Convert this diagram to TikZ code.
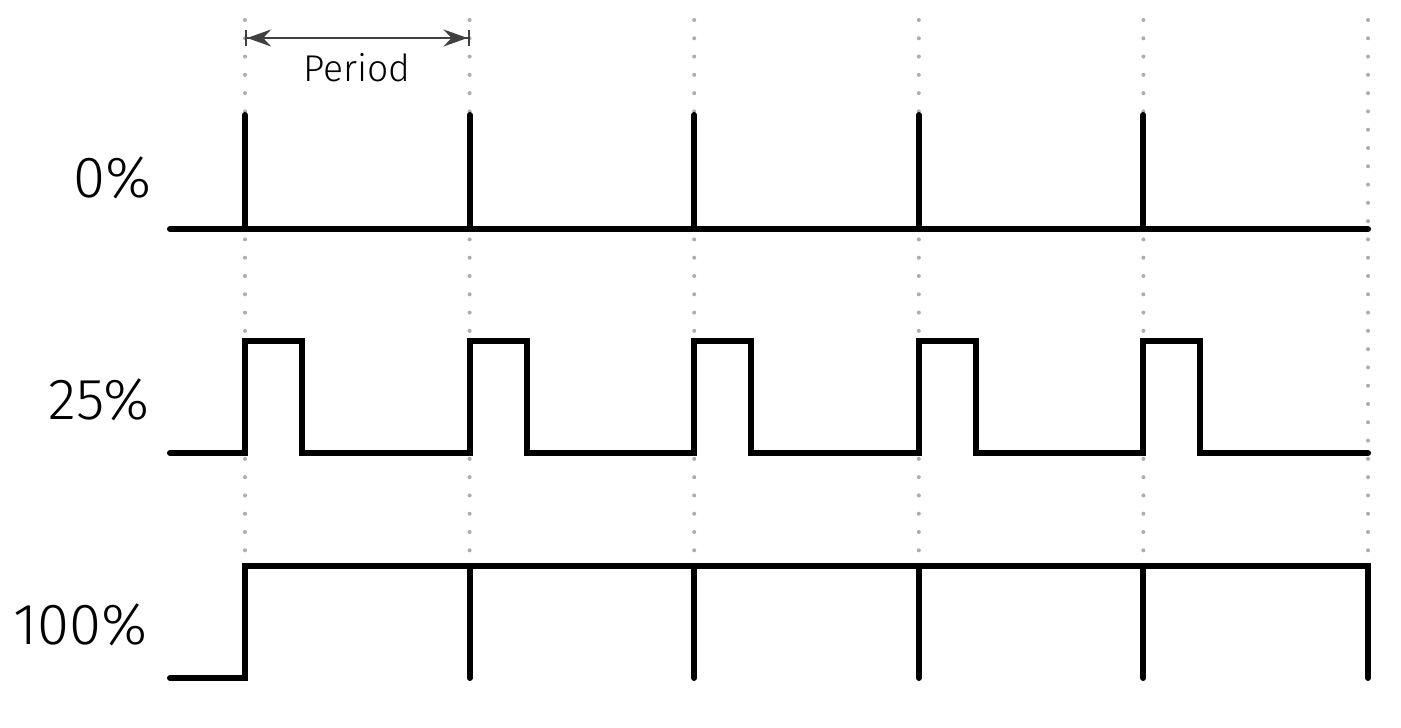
\documentclass[tikz,border=0pt]{standalone}
\usepackage{fontspec}
\setmainfont{Fira Sans}[UprightFont={* Light}]
\usetikzlibrary{arrows.meta}

\tikzset{
  signal/.style={line width=1.7pt, line cap=round, line join=miter},
  guide/.style={black!32, line width=1.15pt, line cap=round, dash pattern=on 0pt off 5.2pt},
  duty/.style={anchor=east, inner sep=0pt, font=\fontsize{16.5}{18}\selectfont},
  span/.style={black!75, line width=0.6pt,
    {Bar[width=4.4pt]Stealth[length=2.4mm,width=1.7mm,inset=0.8mm]}-{Stealth[length=2.4mm,width=1.7mm,inset=0.8mm]Bar[width=4.4pt]}},
}

\begin{document}
\begin{tikzpicture}[x=0.01cm,y=-0.01cm]
  \useasboundingbox (0,0) rectangle (1401,728);

  % Period guides
  \foreach \i in {0,...,5}
    \draw[guide] ({245+224.6*\i},20) -- ({245+224.6*\i},566);

  % Period marker
  \coordinate (perA) at (245,38);
  \coordinate (perB) at (469.6,38);
  \draw[span] (perA) -- (perB);
  \node[inner sep=0pt, font=\fontsize{10.6}{13}\selectfont] (period) at (357,68) {Period};

  % 0%
  \node[duty] (duty0) at (152,178) {0\%};
  \draw[signal] (170,229) -- (1368,229);
  \foreach \i in {0,...,4}
    \draw[signal] ({245+224.6*\i},229) -- ++(0,-114);

  % 25%
  \node[duty] (duty25) at (150,400) {25\%};
  \draw[signal] (170,453)
    \foreach \i in {0,...,4} {-- ({245+224.6*\i},453) -- ++(0,-112) -- ++(57,0) -- ++(0,112)}
    -- (1368,453);

  % 100%
  \node[duty] (duty100) at (148,625) {100\%};
  \draw[signal] (170,678) -- (245,678) -- (245,566) -- (1368,566) -- (1368,678);
  \foreach \i in {1,...,4}
    \draw[signal] ({245+224.6*\i},566) -- ++(0,112);
\end{tikzpicture}
\end{document}
